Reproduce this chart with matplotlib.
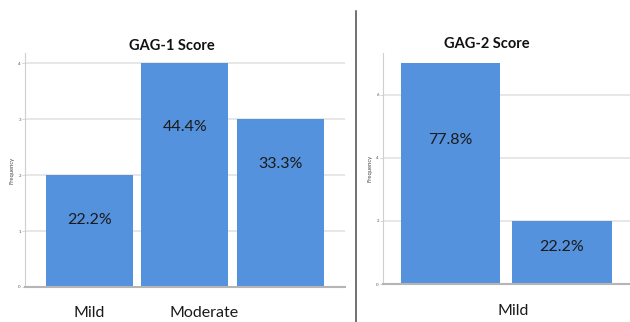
import matplotlib
matplotlib.use("Agg")
import matplotlib.pyplot as plt
from matplotlib.lines import Line2D

# GAG-1 score distribution
gag1_categories = ["Mild", "Moderate", ""]
gag1_counts = [2, 4, 3]
# GAG-2 score distribution
gag2_categories = ["Mild", ""]
gag2_counts = [7, 2]

plt.rcParams["font.family"] = ["Lato", "DejaVu Sans"]

BAR = "#5592dd"
GRID = "#e3e3e3"

W, H = 630, 322
fig = plt.figure(figsize=(W / 100, H / 100), dpi=100)


def pct_labels(counts):
    total = sum(counts)
    return [f"{100 * c / total:.1f}%" for c in counts]


def style_axes(ax, ymax, ticks):
    ax.set_ylim(0, ymax)
    ax.set_yticks(ticks)
    ax.set_yticklabels([str(t) for t in ticks], fontsize=3.2, color="#555555")
    ax.tick_params(axis="y", length=2, width=0.6, color="#cfcfcf", pad=1)
    ax.set_xticks([])
    ax.yaxis.grid(True, color=GRID, linewidth=1.2)
    ax.set_axisbelow(True)
    for s in ("top", "right"):
        ax.spines[s].set_visible(False)
    ax.spines["left"].set_color("#cfcfcf")
    ax.spines["left"].set_linewidth(0.8)
    ax.spines["bottom"].set_color("#b5b5b5")
    ax.spines["bottom"].set_linewidth(1.5)
    ax.set_ylabel("Frequency", fontsize=4.2, color="#444444", labelpad=3)


# ---- left panel: GAG-1 ----
ax1 = fig.add_axes([25 / W, 1 - 287 / H, 320 / W, 234 / H])
x1 = list(range(len(gag1_counts)))
ax1.bar(x1, gag1_counts, width=0.91, color=BAR, edgecolor="none", zorder=2)
ax1.set_xlim(-0.67, 2.675)
style_axes(ax1, 4.18, [0, 1, 2, 3, 4])
frac1 = [0.60, 0.715, 0.735]
for xi, c, lab, f in zip(x1, gag1_counts, pct_labels(gag1_counts), frac1):
    ax1.text(xi, c * f, lab, ha="center", va="center", fontsize=11.5,
             color="#1a1a1a", zorder=3)
shift1 = [0.0, 0.2, 0.0]
for xi, cat, dx in zip(x1, gag1_categories, shift1):
    if cat:
        ax1.text(xi + dx, -0.46, cat, ha="center", va="center", fontsize=11.5,
                 color="#1a1a1a", clip_on=False)
ax1.text(0.46, 1.03, "GAG-1 Score", transform=ax1.transAxes, ha="center",
         va="center", fontsize=10.5, fontweight="bold", color="#111111")

# ---- right panel: GAG-2 ----
ax2 = fig.add_axes([383 / W, 1 - 284 / H, 247 / W, 231 / H])
x2 = list(range(len(gag2_counts)))
ax2.bar(x2, gag2_counts, width=0.89, color=BAR, edgecolor="none", zorder=2)
ax2.set_xlim(-0.605, 1.61)
style_axes(ax2, 7.33, [0, 2, 4, 6])
frac2 = [0.653, 0.585]
for xi, c, lab, f in zip(x2, gag2_counts, pct_labels(gag2_counts), frac2):
    ax2.text(xi, c * f, lab, ha="center", va="center", fontsize=11.5,
             color="#1a1a1a", zorder=3)
for xi, cat in zip(x2, gag2_categories):
    if cat:
        ax2.text(xi + 0.56, -0.86, cat, ha="center", va="center",
                 fontsize=11.5, color="#1a1a1a", clip_on=False)
ax2.text(0.42, 1.04, "GAG-2 Score", transform=ax2.transAxes, ha="center",
         va="center", fontsize=10.5, fontweight="bold", color="#111111")

# divider between the two charts
fig.add_artist(Line2D([356 / W, 356 / W], [0, 1 - 11 / H],
                      transform=fig.transFigure, color="#4a4a4a", lw=1.1))

fig.savefig("out.png", dpi=100)
